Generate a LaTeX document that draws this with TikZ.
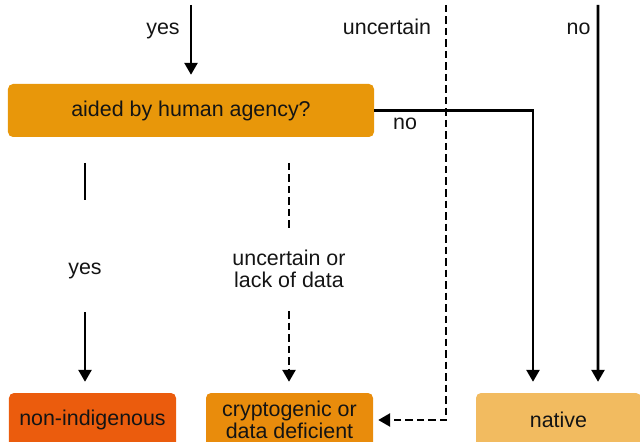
\documentclass[tikz,border=0pt]{standalone}
\usepackage{fontspec}
\setmainfont{Liberation Sans}
\usepackage{xcolor}
\usetikzlibrary{arrows.meta}
\definecolor{askcol}{HTML}{E8970A}
\definecolor{noncol}{HTML}{EB5C0D}
\definecolor{cryptocol}{HTML}{E98C0C}
\definecolor{nativecol}{HTML}{F2BB60}
\definecolor{inkcol}{HTML}{141414}

\begin{document}
\begin{tikzpicture}[x=1bp,y=-1bp,
    font=\fontsize{21.5}{22}\selectfont,
    box/.style={rectangle,rounded corners=5bp,inner sep=0pt,text=inkcol},
    lbl/.style={text=inkcol,inner sep=0pt,anchor=base},
    line/.style={line width=2.6bp,draw=black},
    dashline/.style={line,dash pattern=on 7.5bp off 4bp},
    tip/.style={-{Triangle[width=13bp,length=12bp]}}]
        \useasboundingbox (0,0) rectangle (640,442);
        \clip (0,0) rectangle (640,442);

        % boxes
        \node at (191,110.5) [box,fill=askcol,minimum width=366bp,minimum height=53bp] (ask) {aided by human agency?};
        \node at (92.5,420) [box,fill=noncol,minimum width=167bp,minimum height=54bp] (nonind) {non-indigenous};
        \node at (289.5,420) [box,fill=cryptocol,minimum width=167bp,minimum height=54bp,align=center] (crypto) {cryptogenic or\\data deficient};
        \node at (558.5,420) [box,fill=nativecol,minimum width=165bp,minimum height=54bp] (native) {native};

        % labels
        \node at (163,35) [lbl] (yestop) {yes};
        \node at (387,35) [lbl] (unctop) {uncertain};
        \node at (578.5,35) [lbl] (notop) {no};
        \node at (405,130) [lbl] (noask) {no};
        \node at (85,275) [lbl] (yesleft) {yes};
        \node at (289,269) [text=inkcol,inner sep=0pt,align=center] (uncmid) {uncertain or\\lack of data};

        \coordinate (yesstart) at (191,5);
        \coordinate (uncstart) at (446,5);
        \coordinate (nostart) at (598,5);
        \coordinate (yesA) at (85,163);
        \coordinate (yesB) at (85,200);
        \coordinate (yesC) at (85,312);
        \coordinate (uncA) at (289,163);
        \coordinate (uncB) at (289,228);
        \coordinate (uncC) at (289,311);

        \draw[line,tip,shorten >=9bp] (yesstart) -- (ask);
        \draw[dashline,tip,shorten >=5bp] (uncstart) |- (crypto);
        \draw[line,tip,shorten >=11bp] (ask) -| ([xshift=-25.5bp]native.north);
        \draw[line,tip,shorten >=11bp] (nostart) -- ([xshift=39.5bp]native.north);

        \draw[line] (yesA) -- (yesB);
        \draw[line,tip,shorten >=11bp] (yesC) -- (yesC |- nonind.north);
        \draw[dashline] (uncA) -- (uncB);
        \draw[dashline,tip,shorten >=11bp] (uncC) -- (uncC |- crypto.north);
\end{tikzpicture}
\end{document}
